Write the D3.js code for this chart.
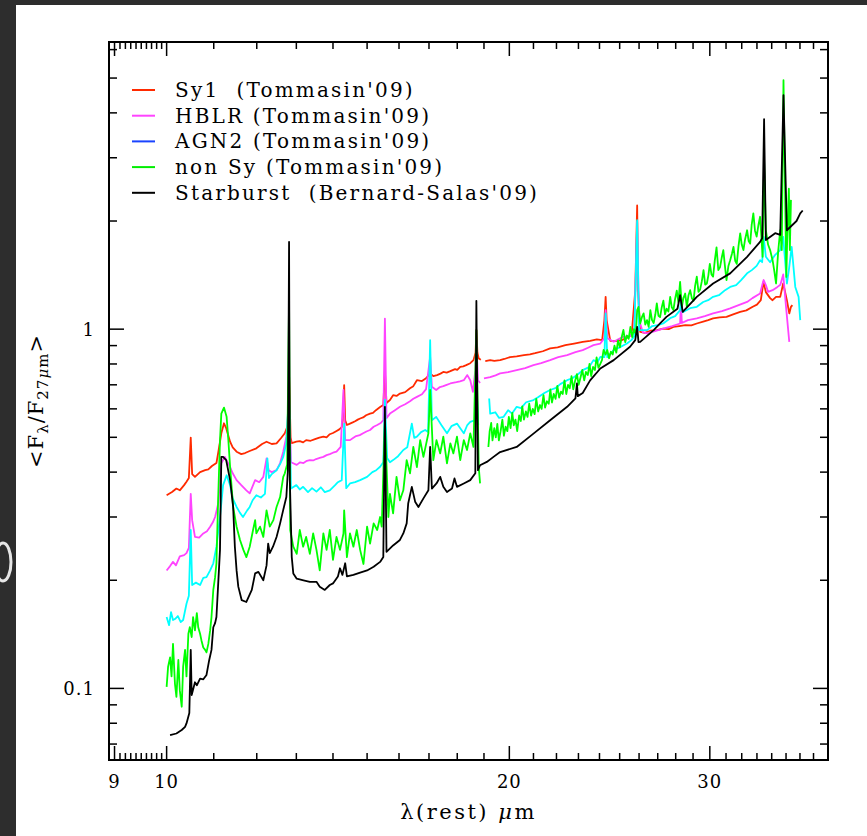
<!DOCTYPE html>
<html>
<head>
<meta charset="utf-8">
<script src="https://cdn.jsdelivr.net/npm/d3@7"></script>
<style>
  html, body { margin: 0; padding: 0; background: #2d2d2d; }
  svg { display: block; }
  .frame { fill: none; stroke: #000; stroke-width: 2; }
  .tick { stroke: #000; stroke-width: 1.5; }
  .lbl { font-family: "DejaVu Serif", serif; font-size: 18px; fill: #000; }
  .spec { fill: none; stroke-width: 1.8; stroke-linejoin: round; }
</style>
</head>
<body>
<svg id="chart" width="867" height="836"></svg>
<script>
// ---- data: [wavelength (micron), F_lambda / F_27um] ; null = gap between IRS modules
var sy1 = [[10.0,0.345],[10.11,0.352],[10.2,0.360],[10.27,0.356],[10.36,0.368],[10.41,0.376],[10.46,0.385],[10.5,0.499],[10.53,0.395],[10.59,0.388],[10.7,0.400],[10.81,0.405],[10.88,0.407],[10.96,0.416],[11.06,0.424],[11.11,0.461],[11.17,0.513],[11.23,0.547],[11.28,0.530],[11.37,0.486],[11.43,0.469],[11.52,0.456],[11.63,0.449],[11.72,0.452],[11.83,0.458],[11.99,0.466],[12.13,0.479],[12.24,0.486],[12.37,0.479],[12.49,0.481],[12.6,0.497],[12.7,0.513],[12.78,0.541],[12.81,0.75],[12.85,0.50],[12.88,0.482],[13.0,0.486],[13.09,0.488],[13.18,0.484],[13.26,0.491],[13.38,0.489],[13.5,0.494],[13.62,0.499],[13.73,0.502],[13.82,0.500],[13.91,0.510],[14.0,0.514],[14.09,0.520],[14.18,0.526],[14.25,0.534],[14.28,0.558],[14.32,0.699],[14.35,0.558],[14.4,0.541],[14.49,0.546],[14.57,0.550],[14.64,0.554],[14.72,0.560],[14.79,0.564],[14.88,0.568],[14.97,0.576],[15.09,0.582],[15.18,0.585],[15.27,0.595],[15.4,0.607],[15.5,0.615],[15.55,0.769],[15.6,0.623],[15.71,0.635],[15.81,0.655],[15.92,0.652],[16.03,0.662],[16.2,0.668],[16.36,0.685],[16.47,0.694],[16.59,0.721],[16.76,0.717],[16.9,0.730],[17.04,0.753],[17.15,0.740],[17.28,0.745],[17.4,0.752],[17.5,0.760],[17.62,0.757],[17.75,0.764],[17.92,0.774],[18.0,0.770],[18.11,0.785],[18.22,0.788],[18.33,0.794],[18.48,0.804],[18.6,0.820],[18.68,0.86],[18.71,0.994],[18.75,0.86],[18.8,0.829],[18.88,0.822],[18.95,null],[19.05,0.815],[19.24,0.820],[19.4,0.816],[19.63,0.820],[19.8,0.826],[20.03,0.836],[20.3,0.840],[20.6,0.847],[20.85,0.851],[21.07,0.857],[21.4,0.868],[21.72,0.884],[22.05,0.890],[22.4,0.903],[22.8,0.912],[23.2,0.922],[23.55,0.928],[23.87,0.936],[24.13,0.932],[24.24,1.06],[24.3,1.23],[24.35,1.06],[24.53,0.928],[24.8,0.926],[25.11,0.932],[25.35,0.945],[25.61,0.962],[25.8,1.28],[25.9,2.21],[25.95,1.28],[26.06,0.983],[26.3,0.977],[26.6,0.990],[26.95,0.994],[27.3,1.004],[27.6,1.000],[27.87,1.015],[28.2,1.020],[28.55,1.026],[28.9,1.024],[29.22,1.037],[29.6,1.050],[29.9,1.060],[30.2,1.071],[30.6,1.078],[31.03,1.082],[31.45,1.100],[31.9,1.117],[32.3,1.128],[32.72,1.154],[33.0,1.17],[33.26,1.204],[33.44,1.354],[33.6,1.268],[33.89,1.22],[34.06,1.204],[34.3,1.23],[34.59,1.23],[34.8,1.34],[35.06,1.204],[35.23,1.106],[35.35,1.154],[35.45,1.167]];

var hblr = [[10.0,0.213],[10.07,0.219],[10.13,0.225],[10.19,0.220],[10.27,0.233],[10.36,0.235],[10.41,0.238],[10.46,0.246],[10.48,0.294],[10.5,0.348],[10.53,0.294],[10.59,0.264],[10.68,0.263],[10.77,0.270],[10.85,0.274],[10.92,0.282],[10.98,0.290],[11.03,0.300],[11.1,0.327],[11.17,0.423],[11.25,0.441],[11.37,0.413],[11.43,0.397],[11.52,0.380],[11.63,0.368],[11.75,0.356],[11.83,0.349],[11.96,0.380],[12.06,0.375],[12.16,0.388],[12.24,0.437],[12.29,0.405],[12.37,0.400],[12.49,0.405],[12.58,0.424],[12.66,0.456],[12.74,0.502],[12.81,0.635],[12.86,0.426],[13.01,0.419],[13.1,0.426],[13.19,0.424],[13.28,0.430],[13.36,0.432],[13.45,0.431],[13.53,0.435],[13.63,0.438],[13.73,0.441],[13.82,0.446],[13.91,0.449],[14.0,0.453],[14.1,0.456],[14.22,0.470],[14.3,0.677],[14.35,0.491],[14.49,0.491],[14.58,0.498],[14.67,0.504],[14.78,0.507],[14.88,0.513],[14.98,0.519],[15.09,0.524],[15.2,0.535],[15.31,0.541],[15.42,0.548],[15.5,0.558],[15.55,1.07],[15.6,0.565],[15.71,0.582],[15.87,0.595],[16.03,0.608],[16.2,0.618],[16.36,0.630],[16.47,0.640],[16.59,0.648],[16.76,0.659],[16.9,0.681],[17.04,0.837],[17.1,0.691],[17.25,0.677],[17.38,0.690],[17.5,0.694],[17.62,0.700],[17.75,0.706],[17.97,0.712],[18.1,0.716],[18.24,0.721],[18.37,0.745],[18.48,0.721],[18.58,0.669],[18.67,0.769],[18.71,0.932],[18.77,0.721],[18.85,0.708],[18.95,null],[19.0,0.729],[19.24,0.735],[19.45,0.744],[19.63,0.753],[19.95,0.759],[20.3,0.769],[20.65,0.779],[21.0,0.794],[21.33,0.804],[21.72,0.820],[22.08,0.836],[22.48,0.847],[22.86,0.863],[23.2,0.874],[23.45,0.888],[23.71,0.903],[24.04,0.912],[24.24,0.944],[24.3,1.13],[24.38,0.944],[24.7,0.922],[24.95,0.938],[25.18,0.952],[25.53,0.956],[25.75,0.994],[25.9,1.99],[26.0,1.06],[26.2,0.980],[26.43,0.973],[26.85,0.987],[27.3,1.004],[27.8,1.02],[28.25,1.037],[28.3,1.19],[28.35,1.04],[28.7,1.06],[29.22,1.071],[29.7,1.087],[30.2,1.106],[30.75,1.122],[31.26,1.142],[31.8,1.166],[32.35,1.191],[32.7,1.22],[33.21,1.256],[33.35,1.326],[33.45,1.37],[33.6,1.326],[33.75,1.27],[34.06,1.284],[34.4,1.311],[34.6,1.33],[34.8,1.42],[35.0,1.154],[35.23,0.922]];

var agn2 = [[10.0,0.158],[10.05,0.150],[10.09,0.163],[10.13,0.155],[10.17,0.156],[10.23,0.159],[10.29,0.153],[10.34,0.155],[10.41,0.172],[10.46,0.181],[10.5,0.276],[10.53,0.194],[10.61,0.197],[10.7,0.194],[10.77,0.203],[10.84,0.204],[10.92,0.213],[10.99,0.223],[11.06,0.248],[11.14,0.300],[11.21,0.368],[11.29,0.392],[11.37,0.368],[11.43,0.338],[11.52,0.320],[11.6,0.308],[11.67,0.300],[11.77,0.313],[11.83,0.320],[11.9,0.334],[11.99,0.345],[12.1,0.340],[12.2,0.348],[12.26,0.437],[12.3,0.385],[12.37,0.395],[12.49,0.405],[12.58,0.421],[12.66,0.441],[12.74,0.481],[12.81,0.677],[12.86,0.360],[13.0,0.368],[13.09,0.358],[13.18,0.364],[13.31,0.352],[13.42,0.361],[13.54,0.353],[13.66,0.363],[13.77,0.352],[13.91,0.356],[14.06,0.368],[14.14,0.375],[14.25,0.380],[14.32,0.546],[14.38,0.361],[14.49,0.372],[14.64,0.375],[14.79,0.380],[15.0,0.388],[15.16,0.400],[15.28,0.405],[15.4,0.414],[15.5,0.426],[15.55,0.635],[15.62,0.438],[15.71,0.426],[15.81,0.432],[15.97,0.443],[16.14,0.461],[16.27,0.469],[16.42,0.546],[16.5,0.498],[16.59,0.502],[16.73,0.517],[16.87,0.524],[16.97,0.517],[17.04,0.932],[17.1,0.558],[17.25,0.570],[17.43,0.541],[17.63,0.513],[17.79,0.537],[17.99,0.546],[18.11,0.530],[18.24,0.513],[18.37,0.541],[18.48,0.552],[18.67,0.558],[18.71,0.721],[18.78,0.541],[18.95,null],[19.2,0.641],[19.24,0.582],[19.44,0.587],[19.59,0.566],[19.77,0.570],[19.95,0.595],[20.11,0.582],[20.3,0.608],[20.48,0.603],[20.69,0.626],[21.0,0.635],[21.21,0.647],[21.47,0.664],[21.72,0.677],[21.95,0.685],[22.17,0.703],[22.48,0.721],[22.72,0.730],[22.98,0.749],[23.2,0.769],[23.5,0.784],[23.71,0.820],[23.9,0.809],[24.04,0.837],[24.24,0.836],[24.3,1.106],[24.38,0.836],[24.7,0.874],[25.02,0.891],[25.37,0.912],[25.6,0.932],[25.75,0.956],[25.9,2.01],[26.0,0.994],[26.43,0.994],[26.7,1.02],[27.0,1.026],[27.3,1.037],[27.69,1.073],[27.97,1.087],[28.25,1.13],[28.3,1.19],[28.4,1.115],[28.83,1.144],[29.22,1.154],[29.6,1.19],[29.9,1.204],[30.2,1.23],[30.56,1.243],[30.94,1.284],[31.26,1.311],[31.64,1.326],[31.96,1.37],[32.35,1.43],[32.66,1.46],[32.98,1.50],[33.21,1.556],[33.35,1.536],[33.45,1.807],[33.6,1.59],[33.89,1.536],[34.24,1.61],[34.59,1.66],[34.8,1.807],[35.06,1.34],[35.2,1.46],[35.4,1.695],[35.66,1.311],[35.9,1.23],[36.02,1.06]];

var nonSy = [[10.0,0.101],[10.03,0.115],[10.07,0.122],[10.1,0.108],[10.13,0.133],[10.17,0.103],[10.2,0.0947],[10.24,0.120],[10.27,0.0989],[10.31,0.0889],[10.34,0.115],[10.38,0.128],[10.41,0.108],[10.45,0.142],[10.48,0.148],[10.52,0.139],[10.55,0.158],[10.59,0.145],[10.63,0.162],[10.66,0.148],[10.7,0.142],[10.73,0.136],[10.77,0.130],[10.81,0.128],[10.84,0.126],[10.88,0.133],[10.92,0.145],[10.95,0.158],[10.99,0.188],[11.03,0.204],[11.06,0.223],[11.1,0.341],[11.14,0.491],[11.17,0.582],[11.23,0.605],[11.29,0.570],[11.33,0.491],[11.37,0.413],[11.44,0.320],[11.52,0.282],[11.6,0.259],[11.68,0.243],[11.75,0.232],[11.83,0.248],[11.91,0.276],[11.96,0.294],[11.99,0.270],[12.08,0.282],[12.16,0.264],[12.24,0.313],[12.32,0.282],[12.41,0.294],[12.49,0.320],[12.58,0.341],[12.66,0.388],[12.7,0.397],[12.76,0.42],[12.81,1.2],[12.84,0.276],[12.92,0.248],[13.01,0.237],[13.09,0.276],[13.18,0.248],[13.26,0.264],[13.36,0.237],[13.45,0.270],[13.54,0.243],[13.63,0.213],[13.73,0.270],[13.82,0.243],[13.91,0.276],[14.0,0.228],[14.1,0.264],[14.2,0.243],[14.3,0.270],[14.32,0.313],[14.4,0.232],[14.49,0.270],[14.59,0.248],[14.69,0.276],[14.79,0.243],[14.89,0.222],[15.0,0.282],[15.09,0.253],[15.2,0.288],[15.31,0.276],[15.4,0.300],[15.45,0.282],[15.55,0.558],[15.66,0.300],[15.71,0.348],[15.81,0.307],[15.92,0.388],[16.03,0.334],[16.14,0.356],[16.25,0.432],[16.36,0.397],[16.47,0.470],[16.59,0.413],[16.7,0.491],[16.81,0.441],[16.98,0.513],[17.04,0.677],[17.15,0.432],[17.26,0.491],[17.39,0.451],[17.5,0.502],[17.63,0.423],[17.75,0.481],[17.86,0.451],[17.99,0.502],[18.11,0.432],[18.24,0.491],[18.36,0.461],[18.48,0.513],[18.6,0.470],[18.71,0.994],[18.8,0.413],[18.85,0.372],[18.95,null],[19.17,0.470],[19.22,0.52],[19.28,0.548],[19.33,0.49],[19.4,0.53],[19.46,0.50],[19.52,0.545],[19.58,0.49],[19.65,0.52],[19.72,0.56],[19.78,0.505],[19.85,0.535],[19.92,0.52],[19.98,0.57],[20.05,0.53],[20.12,0.585],[20.18,0.54],[20.25,0.56],[20.32,0.52],[20.4,0.575],[20.47,0.555],[20.53,0.61],[20.6,0.56],[20.68,0.59],[20.75,0.57],[20.82,0.62],[20.9,0.575],[20.97,0.60],[21.05,0.58],[21.12,0.64],[21.2,0.59],[21.28,0.615],[21.35,0.60],[21.43,0.655],[21.5,0.605],[21.58,0.63],[21.66,0.62],[21.73,0.68],[21.8,0.625],[21.88,0.66],[21.96,0.64],[22.04,0.695],[22.12,0.645],[22.2,0.67],[22.28,0.66],[22.36,0.72],[22.44,0.66],[22.52,0.70],[22.6,0.685],[22.68,0.74],[22.76,0.68],[22.85,0.72],[22.93,0.75],[23.01,0.70],[23.1,0.735],[23.18,0.77],[23.27,0.72],[23.35,0.76],[23.44,0.745],[23.52,0.80],[23.6,0.74],[23.69,0.785],[23.78,0.77],[23.86,0.835],[23.95,0.78],[24.04,0.80],[24.12,0.82],[24.2,0.875],[24.3,0.85],[24.38,0.875],[24.47,0.83],[24.56,0.865],[24.65,0.85],[24.74,0.90],[24.83,0.86],[24.92,0.93],[25.01,0.89],[25.1,0.95],[25.19,0.995],[25.28,0.92],[25.37,0.96],[25.46,0.94],[25.55,1.015],[25.64,0.95],[25.73,1.0],[25.83,0.97],[25.9,1.13],[25.97,1.154],[26.06,1.037],[26.15,1.08],[26.24,1.106],[26.33,1.03],[26.42,1.06],[26.51,1.015],[26.6,1.13],[26.69,1.06],[26.78,1.04],[26.87,1.10],[26.95,1.18],[27.04,1.09],[27.13,1.08],[27.22,1.15],[27.31,1.20],[27.4,1.10],[27.49,1.14],[27.59,1.12],[27.69,1.23],[27.78,1.15],[27.87,1.13],[27.96,1.21],[28.06,1.28],[28.15,1.19],[28.25,1.354],[28.35,1.154],[28.44,1.22],[28.54,1.257],[28.64,1.154],[28.73,1.24],[28.83,1.284],[28.93,1.22],[29.03,1.20],[29.12,1.32],[29.22,1.40],[29.32,1.27],[29.42,1.29],[29.52,1.36],[29.62,1.46],[29.72,1.33],[29.82,1.34],[29.91,1.41],[30.0,1.52],[30.1,1.42],[30.2,1.40],[30.3,1.55],[30.41,1.69],[30.52,1.46],[30.63,1.49],[30.73,1.58],[30.83,1.66],[30.93,1.50],[31.03,1.37],[31.15,1.50],[31.26,1.556],[31.37,1.62],[31.47,1.694],[31.58,1.55],[31.68,1.52],[31.79,1.70],[31.9,1.847],[32.0,1.72],[32.11,1.66],[32.22,1.78],[32.35,1.885],[32.45,1.76],[32.55,1.73],[32.65,1.95],[32.76,2.10],[32.87,1.88],[32.98,1.81],[33.1,1.95],[33.21,2.055],[33.3,1.80],[33.38,1.59],[33.48,2.95],[33.6,1.885],[33.75,1.72],[33.89,1.66],[34.06,1.556],[34.18,1.45],[34.3,1.34],[34.45,1.65],[34.59,1.885],[34.7,1.659],[34.82,4.93],[35.02,1.398],[35.1,1.9],[35.2,2.46],[35.27,1.66],[35.35,2.29]];

var starburst = [[10.07,0.0741],[10.2,0.0749],[10.31,0.0766],[10.38,0.0782],[10.41,0.0799],[10.47,0.0854],[10.5,0.128],[10.52,0.0958],[10.59,0.104],[10.63,0.102],[10.7,0.1065],[10.77,0.106],[10.84,0.109],[10.9,0.120],[10.95,0.128],[10.99,0.148],[11.03,0.152],[11.06,0.158],[11.1,0.196],[11.14,0.243],[11.17,0.441],[11.21,0.441],[11.28,0.432],[11.37,0.380],[11.44,0.320],[11.48,0.248],[11.52,0.213],[11.56,0.192],[11.64,0.176],[11.75,0.174],[11.88,0.188],[11.96,0.209],[12.04,0.211],[12.16,0.200],[12.24,0.220],[12.28,0.253],[12.32,0.238],[12.4,0.248],[12.49,0.264],[12.58,0.288],[12.66,0.314],[12.74,0.341],[12.78,0.405],[12.81,1.75],[12.83,0.380],[12.88,0.232],[12.92,0.209],[13.01,0.202],[13.19,0.200],[13.36,0.198],[13.54,0.198],[13.63,0.192],[13.77,0.188],[13.91,0.194],[14.0,0.196],[14.14,0.205],[14.2,0.216],[14.27,0.207],[14.35,0.223],[14.4,0.205],[14.59,0.207],[14.79,0.210],[15.0,0.213],[15.2,0.218],[15.4,0.225],[15.5,0.232],[15.55,0.608],[15.6,0.240],[15.81,0.250],[16.03,0.259],[16.14,0.270],[16.25,0.288],[16.3,0.327],[16.42,0.364],[16.53,0.331],[16.64,0.320],[16.81,0.338],[16.98,0.356],[17.04,0.470],[17.1,0.360],[17.26,0.372],[17.39,0.388],[17.5,0.364],[17.63,0.352],[17.81,0.360],[17.9,0.384],[17.99,0.364],[18.24,0.372],[18.48,0.380],[18.67,0.397],[18.71,1.199],[18.77,0.405],[18.85,0.418],[19.11,0.427],[19.37,0.441],[19.63,0.455],[20.3,0.470],[21.0,0.512],[21.72,0.558],[22.48,0.608],[22.86,0.642],[22.93,0.706],[22.97,0.651],[23.2,0.664],[23.55,0.720],[24.04,0.777],[24.7,0.820],[25.53,0.893],[25.8,0.932],[25.9,1.015],[25.97,0.92],[26.06,0.922],[26.78,0.994],[27.13,1.037],[27.48,1.082],[28.1,1.14],[28.25,1.243],[28.4,1.117],[29.22,1.23],[30.2,1.34],[31.26,1.43],[32.35,1.59],[33.21,1.75],[33.35,1.79],[33.48,3.84],[33.6,1.77],[34.24,1.85],[34.59,1.83],[34.82,4.48],[35.06,1.885],[35.75,2.0],[36.02,2.10],[36.2,2.14]];

var seriesList = [sy1, hblr, agn2, nonSy, starburst];
var lineColors = ["#ff2a00", "#ff44ff", "#00ffff", "#00ff00", "#000000"];
var legendLabels = ["Sy1  (Tommasin'09)", "HBLR (Tommasin'09)", "AGN2 (Tommasin'09)", "non Sy (Tommasin'09)", "Starburst  (Bernard-Salas'09)"];
var legendColors = ["#ff2a00", "#ff44ff", "#1a44ff", "#00ee00", "#000000"];
var xLabelTicks = [9, 10, 20, 30];
var yLabelTicks = [0.1, 1];

/** Class drawing the composite spectra plot. */
class SpectrumPlot {
  constructor() {
    this.svg = d3.select("#chart");
    this.left = 109; this.right = 828; this.top = 42; this.bottom = 760;
    this.x = d3.scaleLog().domain([8.9, 38.1]).range([this.left, this.right]);
    this.y = d3.scaleLog().domain([0.0632, 6.3]).range([this.bottom, this.top]);
  }

  /** page background: dark scan border with white sheet */
  drawPage() {
    var svg = this.svg;
    svg.append("rect").attr("width", 867).attr("height", 836).attr("fill", "#2d2d2d");
    svg.append("ellipse").attr("cx", 3).attr("cy", 562).attr("rx", 8).attr("ry", 19)
      .attr("fill", "none").attr("stroke", "#e6e6e6").attr("stroke-width", 3);
    svg.append("rect").attr("x", 16).attr("y", 5).attr("width", 851).attr("height", 831).attr("fill", "#fff");
  }

  /** frame, ticks on all four sides, tick labels, axis titles */
  drawAxes() {
    var self = this;
    var svg = this.svg;
    var g = svg.append("g");

    var xMinor = d3.range(91, 100).map(d => d / 10)
      .concat(d3.range(11, 20), d3.range(21, 30), d3.range(31, 38));
    var yMinor = [0.07, 0.08, 0.09].concat(d3.range(2, 10).map(d => d / 10), d3.range(2, 7));

    function xTicks(vals, len) {
      vals.forEach(function(v) {
        var px = self.x(v);
        g.append("line").attr("class", "tick").attr("x1", px).attr("x2", px)
          .attr("y1", self.bottom).attr("y2", self.bottom - len);
        g.append("line").attr("class", "tick").attr("x1", px).attr("x2", px)
          .attr("y1", self.top).attr("y2", self.top + len);
      });
    }
    function yTicks(vals, len) {
      vals.forEach(function(v) {
        var py = self.y(v);
        g.append("line").attr("class", "tick").attr("y1", py).attr("y2", py)
          .attr("x1", self.left).attr("x2", self.left + len);
        g.append("line").attr("class", "tick").attr("y1", py).attr("y2", py)
          .attr("x1", self.right).attr("x2", self.right - len);
      });
    }
    xTicks(xMinor, 7); xTicks(xLabelTicks, 14);
    yTicks(yMinor, 8); yTicks(yLabelTicks, 15);

    g.append("rect").attr("class", "frame")
      .attr("x", this.left).attr("y", this.top)
      .attr("width", this.right - this.left).attr("height", this.bottom - this.top);

    g.selectAll(".xl").data(xLabelTicks).enter().append("text")
      .attr("class", "lbl").attr("text-anchor", "middle").style("letter-spacing", "1px")
      .attr("x", d => self.x(d)).attr("y", 788).text(d => d);
    g.selectAll(".yl").data(yLabelTicks).enter().append("text")
      .attr("class", "lbl").attr("text-anchor", "end").style("letter-spacing", "1px")
      .attr("x", 95).attr("y", d => self.y(d) + 7).text(d => d);

    // x title
    var xt = g.append("text").attr("class", "lbl").style("font-size", "21px")
      .style("letter-spacing", "2.5px")
      .attr("x", (this.left + this.right) / 2).attr("y", 819).attr("text-anchor", "middle")
      .style("white-space", "pre");
    xt.append("tspan").text("λ(rest) ");
    xt.append("tspan").style("font-style", "italic").text("μ");
    xt.append("tspan").text("m");

    // y title
    var yt = g.append("text").attr("class", "lbl").style("font-size", "21px")
      .attr("text-anchor", "middle").style("letter-spacing", "1px")
      .attr("transform", "translate(43," + ((this.top + this.bottom) / 2) + ") rotate(-90)");
    yt.append("tspan").text("<F");
    yt.append("tspan").attr("dy", 5).style("font-size", "15px").text("λ");
    yt.append("tspan").attr("dy", -5).text("/F");
    yt.append("tspan").attr("dy", 5).style("font-size", "15px").text("27");
    yt.append("tspan").style("font-size", "15px").style("font-style", "italic").text("μ");
    yt.append("tspan").style("font-size", "15px").text("m");
    yt.append("tspan").attr("dy", -5).text(">");
  }

  /** the five composite spectra */
  drawSpectra() {
    var self = this;
    this.svg.append("clipPath").attr("id", "plotclip").append("rect")
      .attr("x", this.left).attr("y", this.top)
      .attr("width", this.right - this.left).attr("height", this.bottom - this.top);

    var line = d3.line()
      .defined(d => d[1] != null)
      .x(d => self.x(d[0]))
      .y(d => self.y(d[1]));

    this.svg.append("g").attr("clip-path", "url(#plotclip)")
      .selectAll("path").data(seriesList).enter().append("path")
      .attr("class", "spec")
      .attr("stroke", (d, i) => lineColors[i])
      .attr("d", line);
  }

  /** legend in the upper left */
  drawLegend() {
    var g = this.svg.append("g");
    legendLabels.forEach(function(lab, i) {
      var yy = 90 + i * 25.7;
      g.append("line").attr("x1", 132).attr("x2", 155).attr("y1", yy).attr("y2", yy)
        .attr("stroke", legendColors[i]).attr("stroke-width", 2);
      g.append("text").attr("class", "lbl").style("font-size", "20px")
        .style("letter-spacing", "2.2px").style("white-space", "pre")
        .attr("x", 175).attr("y", yy + 7).text(lab);
    });
  }
}

var plot = new SpectrumPlot();
plot.drawPage();
plot.drawSpectra();
plot.drawAxes();
plot.drawLegend();
</script>
</body>
</html>
